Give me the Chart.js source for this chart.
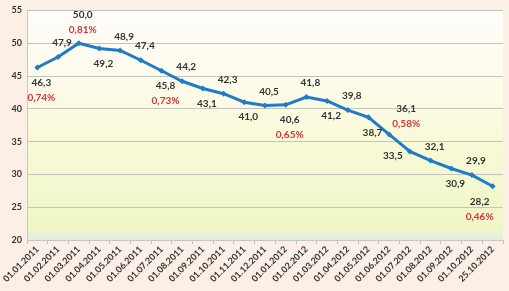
<!DOCTYPE html>
<html>
<head>
<meta charset="utf-8">
<script src="https://cdn.jsdelivr.net/npm/chart.js@4/dist/chart.umd.min.js"></script>
<style>
  html, body { margin: 0; padding: 0; background: #fbefe6; }
  #wrap { width: 509px; height: 291px; }
</style>
</head>
<body>
<div id="wrap"><canvas id="lineChart" width="509" height="291"></canvas></div>
<script>
// data
const dates = ["01.01.2011", "01.02.2011", "01.03.2011", "01.04.2011", "01.05.2011", "01.06.2011",
  "01.07.2011", "01.08.2011", "01.09.2011", "01.10.2011", "01.11.2011", "01.12.2011",
  "01.01.2012", "01.02.2012", "01.03.2012", "01.04.2012", "01.05.2012", "01.06.2012",
  "01.07.2012", "01.08.2012", "01.09.2012", "01.10.2012", "25.10.2012"];
const values = [46.3, 47.9, 50.0, 49.2, 48.9, 47.4, 45.8, 44.2, 43.1, 42.3, 41.0, 40.5,
  40.6, 41.8, 41.2, 39.8, 38.7, 36.1, 33.5, 32.1, 30.9, 29.9, 28.2];
const percents = ["0,74%", null, "0,81%", null, null, null, "0,73%", null, null, null, null, null,
  "0,65%", null, null, null, null, "0,58%", null, null, null, null, "0,46%"];
const yTicks = [20, 25, 30, 35, 40, 45, 50, 55];

// where each value label sits: a = above, b = below, r = above right, l = left, w = below left
const placement = ["b", "a", "a", "b", "a", "a", "b", "a", "b", "a", "b", "a",
  "b", "a", "b", "a", "b", "r", "l", "a", "b", "a", "w"];

const fmt = v => v.toFixed(1).replace('.', ',');

// plot area gradient
const plotBg = {
  id: 'plotBg',
  beforeDraw(chart) {
    const { ctx, chartArea: a } = chart;
    const g = ctx.createLinearGradient(0, a.top, 0, a.bottom);
    g.addColorStop(0, '#fffdfa');
    g.addColorStop(0.35, '#fdfbe8');
    g.addColorStop(0.6, '#f8f9d6');
    g.addColorStop(0.95, '#eff6c6');
    g.addColorStop(1, '#e2ede6');
    ctx.save();
    ctx.fillStyle = g;
    ctx.fillRect(a.left, a.top, a.right - a.left, a.bottom - a.top);
    ctx.restore();
  }
};

// value labels + red percentages
const valueLabels = {
  id: 'valueLabels',
  afterDatasetsDraw(chart) {
    const { ctx } = chart;
    const meta = chart.getDatasetMeta(0);
    ctx.save();
    ctx.textAlign = 'center';
    ctx.textBaseline = 'middle';
    meta.data.forEach((pt, i) => {
      const p = placement[i];
      let x = pt.x + 4, y;
      if (p === 'a') y = pt.y - 14;
      else if (p === 'b') y = pt.y + 15;
      else if (p === 'r') { x = pt.x + 17; y = pt.y - 26; }
      else if (p === 'w') { x = pt.x - 13; y = pt.y + 16; }
      else { x = pt.x - 17; y = pt.y + 4; }
      if (percents[i] && p === 'a') y = pt.y - 28;
      ctx.font = 'bold 10px Lato';
      ctx.fillStyle = '#333333';
      ctx.fillText(fmt(values[i]), x, y);
      if (percents[i]) {
        ctx.fillStyle = '#d5333b';
        ctx.fillText(percents[i], x, y + 15);
      }
    });
    ctx.restore();
  }
};

const ctx = document.getElementById('lineChart').getContext('2d');
const myChart = new Chart(ctx, {
  type: 'line',
  data: {
    labels: dates,
    datasets: [{
      data: values,
      borderColor: '#1f7cc8',
      backgroundColor: '#1f7cc8',
      borderWidth: 3,
      pointStyle: 'rectRot',
      pointRadius: 3,
      pointBorderWidth: 0,
      tension: 0,
      fill: false
    }]
  },
  options: {
    responsive: false,
    animation: false,
    layout: { padding: { top: 8, right: 6, left: 4, bottom: 0 } },
    plugins: { legend: { display: false }, tooltip: { enabled: false } },
    scales: {
      x: {
        offset: true,
        grid: { drawOnChartArea: false, drawTicks: true, tickLength: 4, color: '#c0c0c0', offset: true },
        border: { color: '#c6c6c6' },
        ticks: {
          minRotation: 45, maxRotation: 45, autoSkip: false,
          color: '#333333', font: { family: 'Lato', size: 9, weight: 'bold' }, padding: 0
        },
        afterFit(s) { s.height = 51; }
      },
      y: {
        min: 20, max: 55,
        afterBuildTicks(s) { s.ticks = yTicks.map(v => ({ value: v })); },
        grid: { color: '#c3c3bb', drawTicks: false },
        border: { color: '#c6c6c6' },
        ticks: { color: '#333333', font: { family: 'Lato', size: 9, weight: 'bold' }, padding: 5 },
        afterFit(s) { s.width = 23; }
      }
    }
  },
  plugins: [plotBg, valueLabels]
});
</script>
</body>
</html>
